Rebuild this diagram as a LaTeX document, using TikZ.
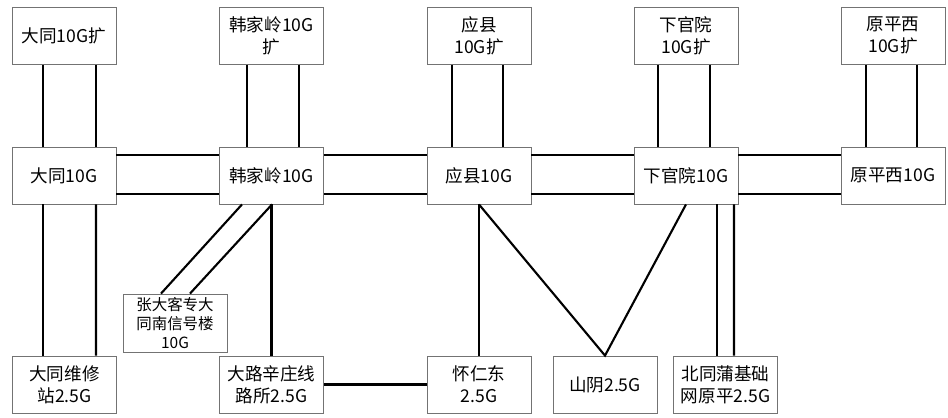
\documentclass[tikz,border=0pt]{standalone}
\usepackage{fontspec}
\setmainfont{Noto Sans CJK SC}
\usepackage{tikz}
\usetikzlibrary{positioning,calc}
\tikzset{
  every node/.append style={font=\fontsize{12.5}{15.5}\selectfont},
}

\begin{document}
\begin{tikzpicture}[
  x=0.025cm, y=-0.025cm,
  box/.style={
    rectangle,
    draw=black!55,
    line width=0.6pt,
    minimum width=2.6cm,
    minimum height=1.425cm,
    align=center,
    inner sep=2pt
  },
  link/.style={line width=1.5pt, draw=black}
]
\useasboundingbox (0,0) rectangle (948,417);

% --- 10G ring (middle row) ---
\node[box] (dt)  at (64,175.5)  {大同10G};
\node[box] (hjl) at (271.5,175.5) {韩家岭10G};
\node[box] (yx)  at (479,175.5) {应县10G};
\node[box] (xgy) at (686,175.5) {下官院10G};
\node[box] (ypx) at (893,175.5) {原平西10G};

% --- expansion nodes (top row) ---
\node[box, above=2.05cm of dt]  (dtx)  {大同10G扩};
\node[box, above=2.05cm of hjl] (hjlx) {韩家岭10G\\扩};
\node[box, above=2.05cm of yx]  (yxx)  {应县\\10G扩};
\node[box, above=2.05cm of xgy] (xgyx) {下官院\\10G扩};
\node[box, above=2.05cm of ypx] (ypxx) {原平西\\10G扩};

% --- access nodes (bottom row) ---
\node[box] (dtwx) at (64.5,384.5) {大同维修\\站2.5G};
\node[box] (dlx)  at (271.5,384.5) {大路辛庄线\\路所2.5G};
\node[box] (hrd)  at (479,384.5) {怀仁东\\2.5G};
\node[box] (sy)   at (605,384.5) {山阴2.5G};
\node[box] (btp)  at (725.5,384.5) {北同蒲基础\\网原平2.5G};
\node[box, font=\fontsize{11}{13.5}\selectfont, minimum height=1.45cm] (zdk) at (175,323) {张大客专大\\同南信号楼\\10G};

% Double links top -> middle
\foreach \t/\m/\l/\r in {dtx/dt/-21/32, hjlx/hjl/-24.5/27.5, yxx/yx/-27/24, xgyx/xgy/-28/24, ypxx/ypx/-27/24} {
  \draw[link] ($(\t.south)+(\l,0)$) -- ($(\m.north)+(\l,0)$);
  \draw[link] ($(\t.south)+(\r,0)$) -- ($(\m.north)+(\r,0)$);
}

% Double links along the ring
\foreach \a/\b in {dt/hjl, hjl/yx, yx/xgy, xgy/ypx} {
  \draw[link] ($(\a.east)+(0,-20.5)$) -- ($(\b.west)+(0,-20.5)$);
  \draw[link] ($(\a.east)+(0,18.5)$) -- ($(\b.west)+(0,18.5)$);
}

% Access links
\draw[link] ($(dt.south)+(-21,0)$) -- ($(dtwx.north)+(-21.5,0)$);
\draw[link] ($(dt.south)+(32,0)$) -- ($(dtwx.north)+(31.5,0)$);
\draw[link] ($(hjl.south)+(-29.5,0)$) -- ($(zdk.north)+(-14,0)$);
\draw[link] ($(hjl.south)+(0.5,0)$) -- ($(zdk.north)+(15,0)$);
\draw[link] (hjl.south) -- (dlx.north);
\draw[link] (dlx.east) -- (hrd.west);
\draw[link] (yx.south) -- (hrd.north);
\draw[link] (yx.south) -- (sy.north) -- (xgy.south);
\draw[link] ($(xgy.south)+(31,0)$) -- ($(btp.north)+(-8.5,0)$);
\draw[link] ($(xgy.south)+(48,0)$) -- ($(btp.north)+(8.5,0)$);

\end{tikzpicture}
\end{document}
